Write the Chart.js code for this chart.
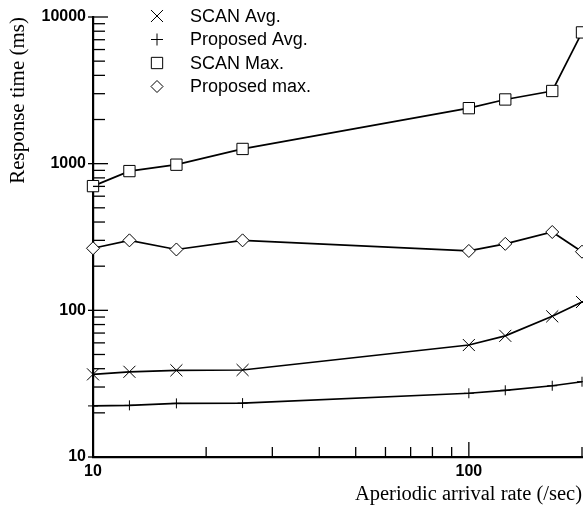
<!DOCTYPE html>
<html><head><meta charset="utf-8">
<script src="https://cdn.jsdelivr.net/npm/chart.js@4.4.1/dist/chart.umd.min.js"></script>
<style>html,body{margin:0;padding:0;background:#fff;overflow:hidden}canvas{display:block}</style>
</head><body>
<canvas id="c" width="583" height="508"></canvas>
<script>
// ---- data ----
const arrivalRates = [10, 12.5, 16.67, 25, 100, 125, 166.67, 200];
const scanAvg     = [36.6, 38.1, 39.0, 39.2, 58, 67, 91, 114];
const proposedAvg = [22.3, 22.5, 23.2, 23.3, 27.2, 28.5, 30.6, 32.6];
const scanMax     = [703, 890, 984, 1260, 2390, 2740, 3130, 7850];
const proposedMax = [265, 300, 260, 300, 254, 284, 342, 251];
const seriesLabels = ['SCAN Avg.', 'Proposed Avg.', 'SCAN Max.', 'Proposed max.'];
const yTickValues = [10, 100, 1000, 10000];
const xTickValues = [10, 100];
const xAxisTitle = 'Aperiodic arrival rate (/sec)';
const yAxisTitle = 'Response time (ms)';

const SANS = '"Liberation Sans", Arial, Helvetica, sans-serif';
const SERIF = '"Liberation Serif", "Times New Roman", Times, serif';

function pts(vals) { return arrivalRates.map((x, i) => ({x: x, y: vals[i]})); }

const markerStyles = [
  {pointStyle: 'crossRot', radius: 8.5},
  {pointStyle: 'cross', radius: 5},
  {pointStyle: 'rect', radius: 8},
  {pointStyle: 'rectRot', radius: 6.5}
];
const seriesValues = [scanAvg, proposedAvg, scanMax, proposedMax];

const datasets = seriesValues.map((vals, i) => ({
  label: seriesLabels[i],
  data: pts(vals),
  showLine: true,
  borderColor: '#000',
  borderWidth: 1.7,
  tension: 0,
  pointStyle: markerStyles[i].pointStyle,
  pointRadius: markerStyles[i].radius,
  pointHoverRadius: markerStyles[i].radius,
  pointBorderColor: '#000',
  pointBackgroundColor: '#fff',
  pointBorderWidth: 1,
  clip: false
}));

const ticksPlugin = {
  id: 'innerTicks',
  afterDatasetsDraw(chart) {
    const ctx = chart.ctx;
    const xs = chart.scales.x, ys = chart.scales.y;
    const L = chart.chartArea.left, B = chart.chartArea.bottom;
    ctx.save();
    ctx.strokeStyle = '#000';
    ctx.lineWidth = 1.3;
    for (let d = 10; d <= 10000; d *= 10) {
      const y = ys.getPixelForValue(d);
      ctx.beginPath(); ctx.moveTo(L - 5, y); ctx.lineTo(L + 15, y); ctx.stroke();
      if (d < 10000) {
        for (let m = 2; m <= 9; m++) {
          const yy = ys.getPixelForValue(m * d);
          ctx.beginPath(); ctx.moveTo(L, yy); ctx.lineTo(L + 12, yy); ctx.stroke();
        }
      }
    }
    for (let d = 10; d <= 100; d *= 10) {
      const x = xs.getPixelForValue(d);
      if (d > 10) { ctx.beginPath(); ctx.moveTo(x, B + 1); ctx.lineTo(x, B - 15); ctx.stroke(); }
      for (let m = 2; m <= 9; m++) {
        const v = m * d;
        if (v > xs.max) break;
        const xx = xs.getPixelForValue(v);
        ctx.beginPath(); ctx.moveTo(xx, B); ctx.lineTo(xx, B - 10); ctx.stroke();
      }
    }
    ctx.restore();
  }
};

const legendPlugin = {
  id: 'customLegend',
  afterDraw(chart) {
    const ctx = chart.ctx;
    ctx.save();
    chart.data.datasets.forEach((ds, i) => {
      const y = 16 + i * 23.5;
      ctx.fillStyle = '#fff';
      ctx.strokeStyle = '#000';
      ctx.lineWidth = 1;
      const ms = markerStyles[i];
      Chart.helpers.drawPoint(ctx, {pointStyle: ms.pointStyle, radius: ms.pointStyle === 'rectRot' ? 6 : (ms.pointStyle === 'cross' ? 6 : ms.radius), rotation: 0, borderWidth: 1}, 157, y);
      ctx.fillStyle = '#000';
      ctx.font = '18px ' + SANS;
      ctx.textAlign = 'left';
      ctx.textBaseline = 'middle';
      ctx.fillText(ds.label, 190, y + 1);
    });
    ctx.restore();
  }
};

new Chart(document.getElementById('c'), {
  type: 'scatter',
  data: {datasets: datasets},
  options: {
    responsive: false,
    devicePixelRatio: 1,
    animation: false,
    events: [],
    layout: {autoPadding: false, padding: {left: 0, right: 1, top: 17, bottom: 0}},
    plugins: {legend: {display: false}, tooltip: {enabled: false}},
    scales: {
      x: {
        type: 'logarithmic',
        min: 10, max: 200,
        afterBuildTicks: s => { s.ticks = xTickValues.map(v => ({value: v})); },
        afterFit: s => { s.height = 51; },
        grid: {display: false, drawTicks: false},
        border: {display: true, color: '#000', width: 2.2},
        ticks: {color: '#000', padding: 5, maxRotation: 0, autoSkip: false,
                font: {family: SANS, size: 16, weight: 'bold'},
                callback: v => String(v)},
        title: {display: true, text: xAxisTitle, align: 'end', color: '#000',
                font: {family: SERIF, size: 20.5}, padding: {top: 0, bottom: 1}}
      },
      y: {
        type: 'logarithmic',
        min: 10, max: 10000,
        afterBuildTicks: s => { s.ticks = yTickValues.map(v => ({value: v})); },
        afterFit: s => { s.width = 93; },
        grid: {display: false, drawTicks: false},
        border: {display: true, color: '#000', width: 2.2},
        ticks: {color: '#000', padding: 7, autoSkip: false,
                font: {family: SANS, size: 16, weight: 'bold'},
                callback: v => String(v)},
        title: {display: true, text: yAxisTitle, align: 'end', color: '#000',
                font: {family: SERIF, size: 21}, padding: {top: 6, bottom: 0}}
      }
    }
  },
  plugins: [ticksPlugin, legendPlugin]
});
</script>
</body></html>
